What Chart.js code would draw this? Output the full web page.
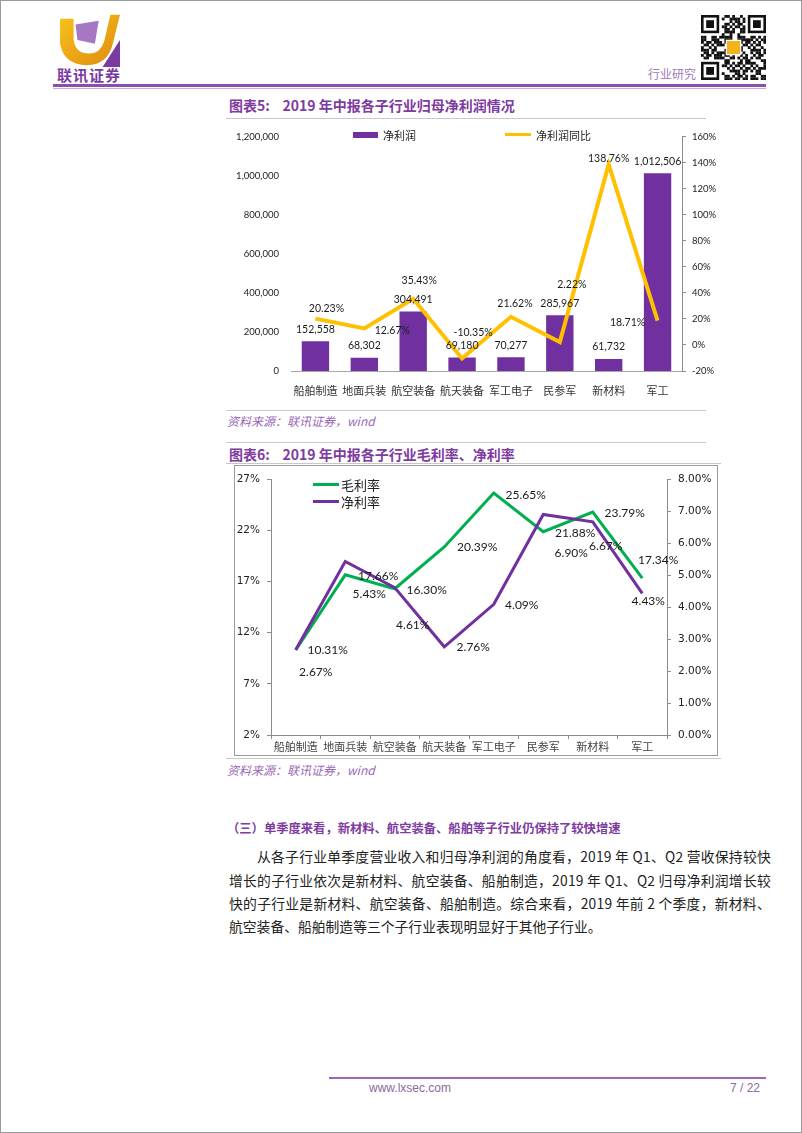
<!DOCTYPE html>
<html>
<head>
<meta charset="utf-8">
<script src="https://cdn.jsdelivr.net/npm/chart.js@4.4.1/dist/chart.umd.min.js"></script>
<style>
    body { margin: 0; background: #fff; }
    #page {
        position: relative; width: 802px; height: 1133px; box-sizing: border-box;
        border: 1px solid #9a9a9a; overflow: hidden; background: #fff;
        font-family: "Noto Sans CJK SC", "Liberation Sans", sans-serif;
    }
    .abs { position: absolute; white-space: nowrap; }
    .title { color: #7e3ba0; font-size: 14px; font-weight: bold; }
    .source { color: #9a68b8; font-size: 12px; font-style: italic; }
    .rule { position: absolute; height: 1px; background: #c8c8c8; }
    .para { position: absolute; left: 228px; width: 542px; height: 24px; line-height: 24px;
        font-size: 13.8px; color: #222; white-space: nowrap; }
</style>
</head>
<body>
<div id="page">
    <!-- header -->
    <svg class="abs" style="left:54px;top:10px" width="72" height="58" viewBox="0 0 72 60">
        <defs>
            <linearGradient id="gold" x1="0" y1="0" x2="1" y2="1">
                <stop offset="0" stop-color="#f7c21b"/>
                <stop offset="1" stop-color="#e08a10"/>
            </linearGradient>
        </defs>
        <path d="M4 8 L18 8 L18 30 Q20 44 34 44 Q46 44 50 30 L56 4 L66 4 L58 36 Q52 56 32 56 Q8 56 4 34 Z" fill="url(#gold)"/>
        <path d="M20 14 L44 10 L40 34 L22 30 Z" fill="#a678c4"/>
        <path d="M48 58 L66 58 L66 30 Z" fill="#7b3aa0"/>
    </svg>
    <div class="abs" style="left:56px;top:63px;font-size:15px;font-weight:bold;color:#7b3aa0;letter-spacing:1px">联讯证券</div>
    <div class="abs" style="left:647px;top:64px;font-size:12px;color:#9e7bb5">行业研究</div>
    <svg id="qr" class="abs" style="left:700px;top:14px" width="65" height="65"></svg>
    <div class="abs" style="left:52px;top:83px;width:713px;height:3px;background:#8a4fae"></div>
    <div class="abs" style="left:52px;top:87px;width:713px;height:1px;background:#c9a8dc"></div>

    <!-- chart 5 -->
    <div class="abs title" style="left:228px;top:94px">图表5:&nbsp;&nbsp;&nbsp; 2019 年中报各子行业归母净利润情况</div>
    <div class="rule" style="left:225px;top:117px;width:480px"></div>
    <canvas id="profitChart" class="abs" style="left:225px;top:118px" width="490" height="285"></canvas>
    <div class="abs" style="left:352px;top:131px;width:25px;height:6px;background:#7030a0"></div>
    <div class="abs" style="left:382px;top:126px;font-size:11px;color:#222">净利润</div>
    <div class="abs" style="left:504px;top:132px;width:26px;height:3px;background:#ffc000"></div>
    <div class="abs" style="left:535px;top:126px;font-size:11px;color:#222">净利润同比</div>
    <div class="rule" style="left:225px;top:409px;width:480px"></div>
    <div class="abs source" style="left:226px;top:411px">资料来源：联讯证券，wind</div>

    <!-- chart 6 -->
    <div class="rule" style="left:225px;top:441px;width:480px"></div>
    <div class="abs title" style="left:228px;top:443px">图表6:&nbsp;&nbsp;&nbsp; 2019 年中报各子行业毛利率、净利率</div>
    <div class="rule" style="left:225px;top:462px;width:495px"></div>
    <div class="abs" style="left:233px;top:464px;width:482px;height:289px;border:1px solid #9a9a9a"></div>
    <canvas id="marginChart" class="abs" style="left:234px;top:465px" width="482" height="289"></canvas>
    <div class="abs" style="left:312px;top:482px;width:26px;height:3px;background:#00b050"></div>
    <div class="abs" style="left:340px;top:474px;font-size:13px;color:#222">毛利率</div>
    <div class="abs" style="left:312px;top:499px;width:26px;height:3px;background:#7030a0"></div>
    <div class="abs" style="left:340px;top:491px;font-size:13px;color:#222">净利率</div>
    <div class="rule" style="left:225px;top:757px;width:495px"></div>
    <div class="abs source" style="left:226px;top:760px">资料来源：联讯证券，wind</div>

    <!-- text -->
    <div class="abs" style="left:226px;top:818px;font-size:12.3px;font-weight:bold;color:#7e3ba0">（三）单季度来看，新材料、航空装备、船舶等子行业仍保持了较快增速</div>
    <div class="para fit" style="top:843px;left:256px;width:514px"><span>从各子行业单季度营业收入和归母净利润的角度看，2019 年 Q1、Q2 营收保持较快</span></div>
    <div class="para fit" style="top:867px"><span>增长的子行业依次是新材料、航空装备、船舶制造，2019 年 Q1、Q2 归母净利润增长较</span></div>
    <div class="para fit" style="top:890px"><span>快的子行业是新材料、航空装备、船舶制造。综合来看，2019 年前 2 个季度，新材料、</span></div>
    <div class="para" style="top:913px"><span>航空装备、船舶制造等三个子行业表现明显好于其他子行业。</span></div>

    <!-- footer -->
    <div class="abs" style="left:328px;top:1076px;width:437px;height:2px;background:#9a68b8"></div>
    <div class="abs" style="left:368px;top:1080px;font-family:'Liberation Sans';font-size:12px;color:#8a6aa0">www.lxsec.com</div>
    <div class="abs" style="left:729px;top:1080px;font-family:'Liberation Sans';font-size:12px;color:#8a6aa0">7 / 22</div>
</div>

<script>
// Data
const categories = ['船舶制造', '地面兵装', '航空装备', '航天装备', '军工电子', '民参军', '新材料', '军工'];
const netProfit = [152558, 68302, 304491, 69180, 70277, 285967, 61732, 1012506];
const netProfitYoY = [20.23, 12.67, 35.43, -10.35, 21.62, 2.22, 138.76, 18.71];
const grossMargin = [10.31, 17.66, 16.30, 20.39, 25.65, 21.88, 23.79, 17.34];
const netMargin = [2.67, 5.43, 4.61, 2.76, 4.09, 6.90, 6.67, 4.43];

// Tick values
const profitTicks = [0, 200000, 400000, 600000, 800000, 1000000, 1200000];
const yoyTicks = [-20, 0, 20, 40, 60, 80, 100, 120, 140, 160];
const grossTicks = [2, 7, 12, 17, 22, 27];
const netMarginTicks = [0, 1, 2, 3, 4, 5, 6, 7, 8];

// Label placement (pixel offsets from each point, like the Excel labels)
const yoyLabelOffsets = [[11, -10], [28, 2], [6, -18], [11, -26], [4, -13], [12, -57], [0, -6], [-30, 2]];
const grossLabelOffsets = [[32, 0], [33, 1], [32, 1], [33, 0], [32, 2], [32, 1], [32, 1], [16, -18]];
const netLabelOffsets = [[20, 22], [24, 33], [18, 37], [29, 0], [28, 1], [28, 39], [13, 24], [6, 8]];

// stretch the full paragraph lines to the text block width
document.querySelectorAll('.para.fit').forEach(el => {
    const span = el.firstElementChild;
    const natural = span.getBoundingClientRect().width;
    const n = span.textContent.length;
    span.style.letterSpacing = ((el.clientWidth - natural) / n) + 'px';
});

// simple decorative QR block
(function drawQr() {
    const svg = document.getElementById('qr');
    const n = 25, s = 65 / n;
    let html = '';
    const finder = (cx, cy) => {
        html += `<rect x="${cx * s}" y="${cy * s}" width="${7 * s}" height="${7 * s}" fill="#111"/>`;
        html += `<rect x="${(cx + 1) * s}" y="${(cy + 1) * s}" width="${5 * s}" height="${5 * s}" fill="#fff"/>`;
        html += `<rect x="${(cx + 2) * s}" y="${(cy + 2) * s}" width="${3 * s}" height="${3 * s}" fill="#111"/>`;
    };
    for (let i = 0; i < n; i++) {
        for (let j = 0; j < n; j++) {
            const inFinder = (i < 8 && j < 8) || (i < 8 && j > n - 9) || (i > n - 9 && j < 8);
            if (inFinder) continue;
            if (((i * 7 + j * 13 + i * j) % 5) < 2 || ((i ^ j) % 3 === 0)) {
                html += `<rect x="${j * s}" y="${i * s}" width="${s + 0.2}" height="${s + 0.2}" fill="#111"/>`;
            }
        }
    }
    finder(0, 0); finder(n - 7, 0); finder(0, n - 7);
    html += `<rect x="${9.5 * s}" y="${9.5 * s}" width="${6 * s}" height="${6 * s}" fill="#fff"/>`;
    html += `<rect x="${10 * s}" y="${10 * s}" width="${5 * s}" height="${5 * s}" fill="#f2b418"/>`;
    svg.innerHTML = html;
})();

// draws value labels for every dataset that has a labelFormat
const valueLabels = {
    id: 'valueLabels',
    afterDatasetsDraw(chart) {
        const ctx = chart.ctx;
        ctx.save();
        ctx.textAlign = 'center';
        ctx.textBaseline = 'middle';
        chart.data.datasets.forEach((ds, di) => {
            if (!ds.labelFormat) return;
            const meta = chart.getDatasetMeta(di);
            ctx.font = ds.labelFont;
            ctx.fillStyle = '#1a1a1a';
            meta.data.forEach((el, i) => {
                const off = ds.labelOffsets ? ds.labelOffsets[i] : [0, -12];
                ctx.fillText(ds.labelFormat(ds.data[i]), el.x + off[0], el.y + off[1]);
            });
        });
        ctx.restore();
    }
};

function fixedTicks(values) {
    return scale => { scale.ticks = values.map(v => ({ value: v })); };
}

// Chart 5: net profit + yoy
new Chart(document.getElementById('profitChart'), {
    data: {
        labels: categories,
        datasets: [
            {
                type: 'line',
                label: '净利润同比',
                data: netProfitYoY,
                yAxisID: 'yRight',
                borderColor: '#ffc000',
                borderWidth: 4,
                pointRadius: 0,
                tension: 0,
                order: 0,
                labelFormat: v => v.toFixed(2) + '%',
                labelOffsets: yoyLabelOffsets,
                labelFont: '10.5px Lato'
            },
            {
                type: 'bar',
                label: '净利润',
                data: netProfit,
                yAxisID: 'yLeft',
                backgroundColor: '#7030a0',
                barPercentage: 0.56,
                categoryPercentage: 1,
                order: 1,
                labelFormat: v => v.toLocaleString('en-US'),
                labelFont: '10.5px Lato'
            }
        ]
    },
    options: {
        responsive: false,
        animation: false,
        layout: { padding: { top: 12, left: 0, right: 0, bottom: 0 } },
        plugins: { legend: { display: false }, tooltip: { enabled: false } },
        scales: {
            x: {
                grid: { display: false },
                border: { display: true, color: '#a6a6a6' },
                ticks: { color: '#333', font: { family: 'Noto Sans CJK SC', size: 11 }, padding: 5, maxRotation: 0, autoSkip: false },
                afterFit: s => { s.height = 33; }
            },
            yLeft: {
                position: 'left',
                min: 0, max: 1200000,
                grid: { display: false, drawTicks: false },
                border: { display: false },
                afterBuildTicks: fixedTicks(profitTicks),
                ticks: { color: '#222', font: { family: 'Lato', size: 9.5 }, padding: 12, callback: v => v.toLocaleString('en-US') },
                afterFit: s => { s.width = 65; }
            },
            yRight: {
                position: 'right',
                min: -20, max: 160,
                grid: { display: true, drawOnChartArea: false, tickLength: 4, color: '#8c8c8c' },
                border: { display: true, color: '#8c8c8c' },
                afterBuildTicks: fixedTicks(yoyTicks),
                ticks: { color: '#222', font: { family: 'Lato', size: 9.5 }, padding: 6, callback: v => v + '%' },
                afterFit: s => { s.width = 34; }
            }
        }
    },
    plugins: [valueLabels]
});

// Chart 6: gross margin + net margin
new Chart(document.getElementById('marginChart'), {
    type: 'line',
    data: {
        labels: categories,
        datasets: [
            {
                label: '净利率',
                data: netMargin,
                yAxisID: 'yRight',
                borderColor: '#7030a0',
                borderWidth: 3,
                pointRadius: 0,
                tension: 0,
                labelFormat: v => v.toFixed(2) + '%',
                labelOffsets: netLabelOffsets,
                labelFont: '12px Lato'
            },
            {
                label: '毛利率',
                data: grossMargin,
                yAxisID: 'yLeft',
                borderColor: '#00b050',
                borderWidth: 3,
                pointRadius: 0,
                tension: 0,
                labelFormat: v => v.toFixed(2) + '%',
                labelOffsets: grossLabelOffsets,
                labelFont: '12px Lato'
            }
        ]
    },
    options: {
        responsive: false,
        animation: false,
        layout: { padding: { top: 8, left: 0, right: 0, bottom: 0 } },
        plugins: { legend: { display: false }, tooltip: { enabled: false } },
        scales: {
            x: {
                offset: true,
                grid: { display: true, offset: true, drawOnChartArea: false, tickLength: 4, color: '#8c8c8c' },
                border: { display: true, color: '#8c8c8c' },
                ticks: { color: '#444', font: { family: 'Noto Sans CJK SC', size: 11 }, padding: 1, maxRotation: 0, autoSkip: false },
                afterFit: s => { s.height = 20; }
            },
            yLeft: {
                position: 'left',
                min: 2, max: 27,
                grid: { display: true, drawOnChartArea: false, tickLength: 4, color: '#8c8c8c' },
                border: { display: true, color: '#8c8c8c' },
                afterBuildTicks: fixedTicks(grossTicks),
                ticks: { color: '#222', font: { family: 'DejaVu Sans', size: 10.5 }, padding: 7, callback: v => v + '%' },
                afterFit: s => { s.width = 36; }
            },
            yRight: {
                position: 'right',
                min: 0, max: 8,
                grid: { display: true, drawOnChartArea: false, tickLength: 4, color: '#8c8c8c' },
                border: { display: true, color: '#8c8c8c' },
                afterBuildTicks: fixedTicks(netMarginTicks),
                ticks: { color: '#222', font: { family: 'DejaVu Sans', size: 10.5 }, padding: 7, callback: v => v.toFixed(2) + '%' },
                afterFit: s => { s.width = 50; }
            }
        }
    },
    plugins: [valueLabels]
});
</script>
</body>
</html>
